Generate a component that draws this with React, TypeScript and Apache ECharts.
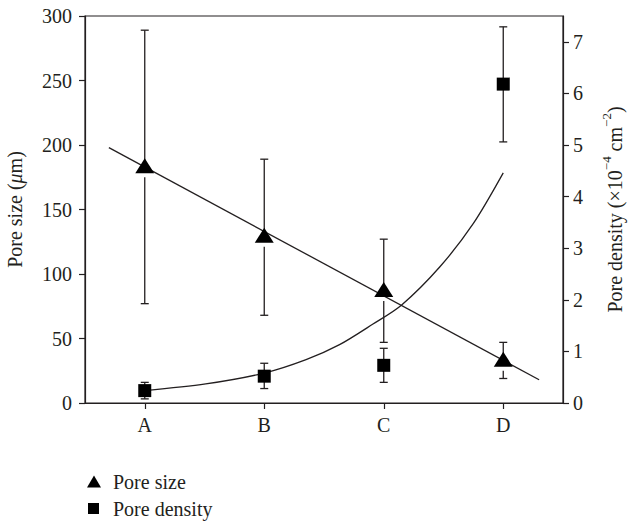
import React, { useEffect, useRef } from "react";
import * as echarts from "echarts";

const categories = ["A", "B", "C", "D"];
const poreSize = [184, 130, 88, 34];
const poreSizeLow = [77, 68, 47, 19];
const poreSizeHigh = [289, 189, 127, 47];
const poreDensity = [0.24, 0.52, 0.73, 6.18];
const poreDensityLow = [0.08, 0.28, 0.4, 5.06];
const poreDensityHigh = [0.4, 0.77, 1.06, 7.29];
// linear fit of pore size (x = category position)
const linearFitX = [-0.3, 3.3];
const linearFitY = [198, 18];
// exponential fit of pore density
const expFitX = [0, 0.51, 1.0, 1.35, 1.63, 1.91, 2.15, 2.47, 2.75, 3.0];
const expFitY = [0.24, 0.37, 0.58, 0.84, 1.13, 1.53, 1.9, 2.64, 3.48, 4.46];
const leftTicks = [0, 50, 100, 150, 200, 250, 300];
const rightTicks = [0, 1, 2, 3, 4, 5, 6, 7];

const FONT = "Liberation Serif, Times New Roman, serif";
const INK = "#231f20";
const FS = 20;

function errorBar(gapBelow: number) {
  return (params: any, api: any) => {
    const x = api.value(0);
    const lo = api.coord([x, api.value(1)]);
    const hi = api.coord([x, api.value(2)]);
    const mid = api.coord([x, api.value(3)]);
    const cap = 4;
    const style = { stroke: INK, lineWidth: 1.3 };
    const children: any[] = [
      { type: "line", shape: { x1: hi[0], y1: hi[1], x2: mid[0], y2: mid[1] }, style },
      { type: "line", shape: { x1: hi[0] - cap, y1: hi[1], x2: hi[0] + cap, y2: hi[1] }, style },
      { type: "line", shape: { x1: lo[0] - cap, y1: lo[1], x2: lo[0] + cap, y2: lo[1] }, style },
    ];
    if (lo[1] > mid[1] + gapBelow) {
      children.push({ type: "line", shape: { x1: lo[0], y1: mid[1] + gapBelow, x2: lo[0], y2: lo[1] }, style });
    }
    return { type: "group", children };
  };
}

export default function App() {
  const ref = useRef<HTMLDivElement>(null);
  useEffect(() => {
    if (!ref.current) return;
    const chart = echarts.init(ref.current, null, { renderer: "svg" });
    const axisLine = { show: true, onZero: false, lineStyle: { color: INK, width: 1.2 } };
    const axisTick = { show: true, inside: false, length: 6, lineStyle: { color: INK, width: 1.2 } };
    const label = { color: INK, fontFamily: FONT, fontSize: FS };
    chart.setOption({
      animation: false,
      backgroundColor: "#fff",
      textStyle: { fontFamily: FONT },
      grid: {
        left: 85,
        right: 65,
        top: 16,
        bottom: 120,
        outerBoundsMode: "none",
        containLabel: false,
        show: true,
        borderColor: INK,
        borderWidth: 1.2,
        backgroundColor: "transparent",
      },
      legend: [
        {
          data: [{ name: "Pore size", icon: "triangle" }],
          orient: "vertical",
          left: 87,
          top: 471.5,
          padding: 0,
          itemWidth: 14,
          itemHeight: 12,
          selectedMode: false,
          itemStyle: { color: "#000" },
          textStyle: { ...label, lineHeight: 20, padding: [0, 0, 0, 7] },
        },
        {
          data: [{ name: "Pore density", icon: "rect" }],
          orient: "vertical",
          left: 88,
          top: 498.5,
          padding: 0,
          itemWidth: 11,
          itemHeight: 11,
          selectedMode: false,
          itemStyle: { color: "#000" },
          textStyle: { ...label, lineHeight: 20, padding: [0, 0, 0, 9] },
        },
      ],
      xAxis: [
        {
          type: "category",
          data: categories,
          boundaryGap: true,
          axisLine,
          axisTick: { ...axisTick, alignWithLabel: true },
          axisLabel: { ...label, margin: 12 },
          splitLine: { show: false },
        },
        {
          type: "value",
          min: -0.5,
          max: 3.5,
          show: false,
          axisLine: { show: false, onZero: false },
          splitLine: { show: false },
        },
      ],
      yAxis: [
        {
          type: "value",
          position: "left",
          min: 0,
          max: 300,
          interval: 50,
          axisLine,
          axisTick,
          axisLabel: { ...label, margin: 13, customValues: leftTicks },
          splitLine: { show: false },
          name: "{n|Pore size (}{i|μ}{n|m)}",
          nameLocation: "middle",
          nameRotate: 90,
          nameGap: 60,
          nameTextStyle: {
            rich: {
              n: { fontFamily: FONT, fontSize: FS, color: INK },
              i: { fontFamily: FONT, fontSize: FS, color: INK, fontStyle: "italic" },
            },
          },
        },
        {
          type: "value",
          position: "right",
          min: 0,
          max: 7.5,
          interval: 1,
          axisLine,
          axisTick: { ...axisTick, customValues: rightTicks },
          axisLabel: { ...label, margin: 10, customValues: rightTicks },
          splitLine: { show: false },
          name: "{n|Pore density (×10}{s|−4}{n| cm}{s|−2}{n|)}",
          nameLocation: "middle",
          nameRotate: 90,
          nameGap: 37,
          nameTextStyle: {
            rich: {
              n: { fontFamily: FONT, fontSize: FS, color: INK, lineHeight: 25, verticalAlign: "bottom" },
              s: { fontFamily: FONT, fontSize: 13, color: INK, lineHeight: 25, verticalAlign: "top" },
            },
          },
        },
      ],
      series: [
        {
          type: "custom",
          name: "size err",
          xAxisIndex: 0,
          yAxisIndex: 0,
          renderItem: errorBar(11.5),
          data: categories.map((c, i) => [i, poreSizeLow[i], poreSizeHigh[i], poreSize[i]]),
          z: 2,
          silent: true,
        },
        {
          type: "custom",
          name: "density err",
          xAxisIndex: 0,
          yAxisIndex: 1,
          renderItem: errorBar(0),
          data: categories.map((c, i) => [i, poreDensityLow[i], poreDensityHigh[i], poreDensity[i]]),
          z: 2,
          silent: true,
        },
        {
          type: "line",
          name: "size fit",
          xAxisIndex: 1,
          yAxisIndex: 0,
          data: linearFitX.map((x, i) => [x, linearFitY[i]]),
          symbol: "none",
          lineStyle: { color: INK, width: 1.3 },
          z: 3,
          silent: true,
        },
        {
          type: "line",
          name: "density fit",
          xAxisIndex: 1,
          yAxisIndex: 1,
          data: expFitX.map((x, i) => [x, expFitY[i]]),
          symbol: "none",
          smooth: 0.3,
          lineStyle: { color: INK, width: 1.3 },
          z: 3,
          silent: true,
        },
        {
          type: "scatter",
          name: "Pore size",
          xAxisIndex: 0,
          yAxisIndex: 0,
          data: poreSize,
          symbol: "triangle",
          symbolSize: [19, 15],
          itemStyle: { color: "#000", opacity: 1 },
          z: 5,
        },
        {
          type: "scatter",
          name: "Pore density",
          xAxisIndex: 0,
          yAxisIndex: 1,
          data: poreDensity,
          symbol: "rect",
          symbolSize: 13,
          itemStyle: { color: "#000", opacity: 1 },
          z: 5,
        },
      ],
    });
    return () => chart.dispose();
  }, []);
  return (
    <div
      ref={ref}
      style={{ position: "fixed", left: 0, top: 0, width: 628, height: 523 }}
    />
  );
}
